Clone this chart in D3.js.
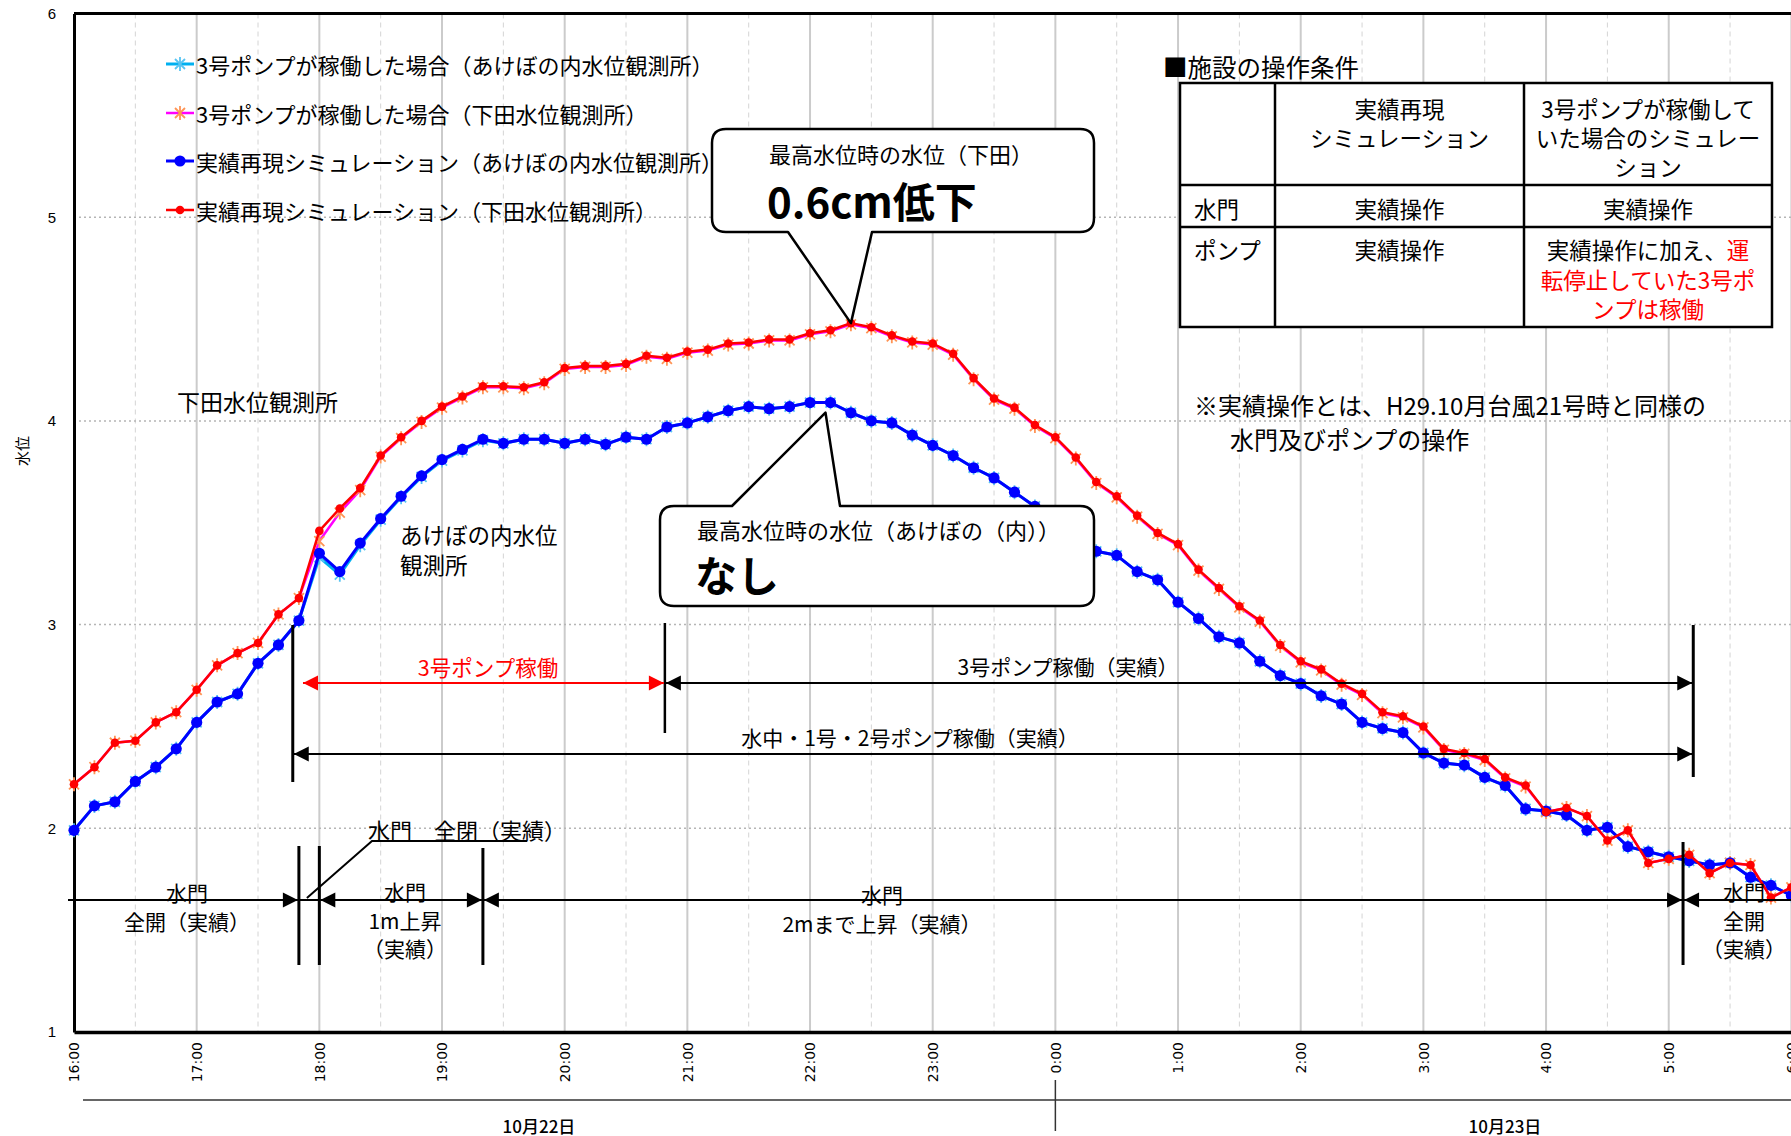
<!DOCTYPE html>
<html>
<head>
<meta charset="utf-8">
<script src="https://cdn.jsdelivr.net/npm/d3@7"></script>
<style>
  html, body { margin: 0; padding: 0; background: #fff; }
  svg { display: block; font-family: "Noto Sans CJK JP", "Noto Sans", sans-serif; }
</style>
</head>
<body>
<svg id="chart" width="1791" height="1136"></svg>
<script>
// Water level (m) every 10 minutes, 10/22 16:00 -> 10/23 6:00
const akebonoActual = [
  1.99, 2.11, 2.13, 2.23, 2.30, 2.39,
  2.52, 2.62, 2.66, 2.81, 2.90, 3.02,
  3.35, 3.26, 3.40, 3.52, 3.63, 3.73,
  3.81, 3.86, 3.91, 3.89, 3.91, 3.91,
  3.89, 3.91, 3.885, 3.92, 3.91, 3.97,
  3.99, 4.02, 4.05, 4.07, 4.06, 4.07,
  4.09, 4.09, 4.04, 4.00, 3.99, 3.93,
  3.88, 3.83, 3.77, 3.72, 3.65, 3.58,
  3.50, 3.43, 3.36, 3.34, 3.26, 3.22,
  3.11, 3.03, 2.94, 2.91, 2.82, 2.75,
  2.71, 2.65, 2.61, 2.52, 2.49, 2.47,
  2.37, 2.32, 2.31, 2.25, 2.21, 2.095,
  2.085, 2.065, 1.99, 2.005, 1.91, 1.885,
  1.86, 1.84, 1.82, 1.83, 1.76, 1.72,
  1.67
];
const shimodaActual = [
  2.216, 2.30, 2.42, 2.43, 2.52, 2.57,
  2.68, 2.80, 2.86, 2.91, 3.05, 3.13,
  3.46, 3.57, 3.67, 3.83, 3.92, 4.00,
  4.07, 4.12, 4.17, 4.17, 4.165, 4.19,
  4.26, 4.27, 4.27, 4.28, 4.32, 4.31,
  4.34, 4.35, 4.38, 4.385, 4.40, 4.40,
  4.43, 4.445, 4.48, 4.46, 4.42, 4.39,
  4.38, 4.33, 4.21, 4.11, 4.065, 3.98,
  3.92, 3.82, 3.70, 3.63, 3.535, 3.45,
  3.395, 3.27, 3.18, 3.09, 3.02, 2.90,
  2.82, 2.78, 2.71, 2.66, 2.57, 2.55,
  2.50, 2.39, 2.37, 2.34, 2.25, 2.21,
  2.08, 2.10, 2.06, 1.94, 1.99, 1.83,
  1.85, 1.87, 1.78, 1.83, 1.82, 1.66,
  1.71
];
const akebonoPump3 = [
  1.99, 2.11, 2.13, 2.23, 2.30, 2.39,
  2.52, 2.62, 2.66, 2.81, 2.90, 3.02,
  3.33, 3.245, 3.39, 3.515, 3.625, 3.725,
  3.805, 3.855, 3.905, 3.89, 3.91, 3.91,
  3.89, 3.91, 3.885, 3.92, 3.91, 3.97,
  3.99, 4.02, 4.05, 4.07, 4.06, 4.07,
  4.09, 4.09, 4.04, 4.00, 3.99, 3.93,
  3.88, 3.83, 3.77, 3.72, 3.65, 3.58,
  3.50, 3.43, 3.36, 3.34, 3.26, 3.22,
  3.11, 3.03, 2.94, 2.91, 2.82, 2.75,
  2.71, 2.65, 2.61, 2.52, 2.49, 2.47,
  2.37, 2.32, 2.31, 2.25, 2.21, 2.095,
  2.085, 2.065, 1.99, 2.005, 1.91, 1.885,
  1.86, 1.84, 1.82, 1.83, 1.76, 1.72,
  1.67
];
const shimodaPump3 = [
  2.216, 2.30, 2.42, 2.43, 2.52, 2.57,
  2.68, 2.80, 2.86, 2.91, 3.05, 3.13,
  3.41, 3.55, 3.66, 3.825, 3.915, 3.995,
  4.065, 4.115, 4.165, 4.165, 4.16, 4.185,
  4.255, 4.265, 4.265, 4.275, 4.315, 4.305,
  4.335, 4.345, 4.375, 4.38, 4.395, 4.395,
  4.425, 4.44, 4.474, 4.455, 4.415, 4.385,
  4.375, 4.325, 4.205, 4.105, 4.06, 3.975,
  3.915, 3.815, 3.695, 3.625, 3.53, 3.445,
  3.39, 3.265, 3.175, 3.085, 3.015, 2.895,
  2.815, 2.775, 2.705, 2.655, 2.565, 2.545,
  2.495, 2.385, 2.365, 2.335, 2.245, 2.205,
  2.08, 2.10, 2.06, 1.94, 1.99, 1.83,
  1.85, 1.87, 1.78, 1.83, 1.82, 1.66,
  1.71
];
const seriesNames = [
  "3号ポンプが稼働した場合（あけぼの内水位観測所）",
  "3号ポンプが稼働した場合（下田水位観測所）",
  "実績再現シミュレーション（あけぼの内水位観測所）",
  "実績再現シミュレーション（下田水位観測所）"
];
const yTicks = [1, 2, 3, 4, 5, 6];
const dateLabels = ["10月22日", "10月23日"];

const startTime = new Date(2017, 9, 22, 16, 0);
const endTime = new Date(2017, 9, 23, 6, 0);
const times = akebonoActual.map((_, i) => d3.timeMinute.offset(startTime, 10 * i));
// clock time helper: hours >= 12 fall on 10/22, the rest on 10/23
const at = (h, m = 0) => new Date(2017, 9, h >= 12 ? 22 : 23, h, m);

const W = 1791, H = 1136;
const plot = { left: 74, right: 1791.4, top: 13.5, bottom: 1032 };
const x = d3.scaleTime().domain([startTime, endTime]).range([plot.left, plot.right]);
const y = d3.scaleLinear().domain([1, 6]).range([plot.bottom, plot.top]);

const svg = d3.select("#chart");
svg.append("rect").attr("width", W).attr("height", H).attr("fill", "#fff");

// ---- grid ----
const grid = svg.append("g");
const halfHours = d3.timeMinute.every(30).range(startTime, endTime).filter(d => d.getMinutes() === 30);
const hours = d3.timeHour.every(1).range(startTime, d3.timeMinute.offset(endTime, 1));
grid.selectAll("line.half").data(halfHours).join("line").attr("class", "half")
  .attr("x1", d => x(d)).attr("x2", d => x(d)).attr("y1", plot.top).attr("y2", plot.bottom)
  .attr("stroke", "#d4d4d4").attr("stroke-width", 1).attr("stroke-dasharray", "5,4");
grid.selectAll("line.hour").data(hours.slice(1)).join("line").attr("class", "hour")
  .attr("x1", d => x(d)).attr("x2", d => x(d)).attr("y1", plot.top).attr("y2", plot.bottom)
  .attr("stroke", "#cbcbcb").attr("stroke-width", 2);
grid.selectAll("line.h").data(yTicks.slice(1, -1)).join("line").attr("class", "h")
  .attr("x1", plot.left).attr("x2", plot.right).attr("y1", d => y(d)).attr("y2", d => y(d))
  .attr("stroke", "#b5b5b5").attr("stroke-width", 1.5).attr("stroke-dasharray", "2,3");

// ---- axes ----
const yAxis = svg.append("g").attr("transform", `translate(${plot.left},0)`)
  .call(d3.axisLeft(y).tickValues(yTicks).tickSize(0).tickPadding(18).tickFormat(d3.format("d")));
yAxis.select(".domain").attr("stroke", "#000").attr("stroke-width", 3);
yAxis.selectAll("text").attr("font-size", 15).attr("fill", "#000")
  .attr("font-family", "'Liberation Sans', sans-serif");

const xAxis = svg.append("g").attr("transform", `translate(0,${plot.bottom})`)
  .call(d3.axisBottom(x).tickValues(hours).tickSize(0).tickSizeOuter(0).tickFormat(d3.timeFormat("%-H:%M")));
xAxis.select(".domain").attr("stroke", "#000").attr("stroke-width", 3.5);
xAxis.selectAll("text")
  .attr("transform", "rotate(-90)").attr("x", -10).attr("y", 0).attr("dy", "0.35em")
  .attr("text-anchor", "end").attr("font-size", 14).attr("fill", "#000")
  .attr("font-family", "'DejaVu Sans', sans-serif");
svg.append("line").attr("x1", plot.left).attr("x2", plot.right).attr("y1", plot.top).attr("y2", plot.top)
  .attr("stroke", "#000").attr("stroke-width", 3);

svg.append("text").attr("transform", `translate(21,451) rotate(-90)`)
  .attr("text-anchor", "middle").attr("dominant-baseline", "central").attr("font-size", 15).text("水位");

// date band
svg.append("line").attr("x1", 83).attr("x2", W).attr("y1", 1100).attr("y2", 1100)
  .attr("stroke", "#333").attr("stroke-width", 1.5);
svg.append("line").attr("x1", x(at(0))).attr("x2", x(at(0))).attr("y1", 1080).attr("y2", 1131)
  .attr("stroke", "#333").attr("stroke-width", 1.5);
svg.selectAll("text.date").data(dateLabels).join("text").attr("class", "date")
  .attr("x", (d, i) => [539, 1505][i]).attr("y", 1125)
  .attr("text-anchor", "middle").attr("dominant-baseline", "central").attr("font-size", 17)
  .attr("font-weight", 500).text(d => d);

// ---- series ----
const styles = [
  { data: akebonoPump3, line: "#00B0F0", width: 3, marker: "star", mcolor: "#58C4F2" },
  { data: shimodaPump3, line: "#FF00FF", width: 2.5, marker: "star", mcolor: "#FF9455" },
  { data: akebonoActual, line: "#0000FF", width: 3, marker: "circle", mcolor: "#0000FF", r: 5.6 },
  { data: shimodaActual, line: "#FF0000", width: 2.5, marker: "circle", mcolor: "#FF0000", r: 4.3 }
];
const starPath = "M-5,-5L5,5M-5,5L5,-5M0,-7L0,7";
const lineGen = d3.line().x((d, i) => x(times[i])).y(d => y(d));
const seriesG = svg.append("g");
function drawMarker(sel, s) {
  if (s.marker === "star") {
    sel.append("path").attr("d", starPath).attr("stroke", s.mcolor).attr("stroke-width", 1.8).attr("fill", "none");
  } else {
    sel.append("circle").attr("r", s.r).attr("fill", s.mcolor);
  }
}
styles.forEach(s => {
  const g = seriesG.append("g");
  g.append("path").datum(s.data).attr("d", lineGen)
    .attr("fill", "none").attr("stroke", s.line).attr("stroke-width", s.width).attr("stroke-linejoin", "round");
  g.selectAll("g.m").data(s.data).join("g").attr("class", "m")
    .attr("transform", (d, i) => `translate(${x(times[i])},${y(d)})`)
    .each(function () { drawMarker(d3.select(this), s); });
});

// ---- legend ----
const legendY = [64, 113, 161, 210];
styles.forEach((s, i) => {
  const g = svg.append("g").attr("transform", `translate(0,${legendY[i]})`);
  g.append("line").attr("x1", 166).attr("x2", 194).attr("stroke", s.line).attr("stroke-width", s.width);
  drawMarker(g.append("g").attr("transform", "translate(180,0)"), s);
  g.append("text").attr("x", 196).attr("dominant-baseline", "central").attr("font-size", 22).text(seriesNames[i]);
});

// ---- helpers ----
function textLines(lines, cx, cy0, gap, opts = {}) {
  const t = svg.append("g");
  lines.forEach((l, i) => {
    t.append("text").attr("x", cx).attr("y", cy0 + i * gap)
      .attr("text-anchor", opts.anchor || "middle").attr("dominant-baseline", "central")
      .attr("font-size", opts.size || 22).attr("fill", opts.color || "#000")
      .attr("font-weight", opts.weight || "normal").text(l);
  });
  return t;
}
function seg(x1, y1, x2, y2, color = "#000", w = 2) {
  svg.append("line").attr("x1", x1).attr("y1", y1).attr("x2", x2).attr("y2", y2)
    .attr("stroke", color).attr("stroke-width", w);
}
function head(tx, ty, dir, color = "#000") {
  const L = 15, h = 7.5;
  svg.append("path").attr("d", `M${tx},${ty}L${tx - dir * L},${ty - h}L${tx - dir * L},${ty + h}Z`).attr("fill", color);
}
function arrow(xa, xb, yy, color = "#000", w = 2) {
  seg(xa, yy, xb, yy, color, w);
  head(xa, yy, -1, color);
  head(xb, yy, 1, color);
}

// ---- station labels ----
textLines(["下田水位観測所"], 177, 401, 0, { anchor: "start", size: 23 });
textLines(["あけぼの内水位", "観測所"], 400, 534, 30, { anchor: "start", size: 22.5 });

// ---- pump operation arrows ----
const yPump3 = 683, yPumps = 754, yGate = 900;
const xPumpStart = x(at(17, 47)), xPump3Actual = x(at(20, 49)), xPumpEnd = x(at(5, 12));
seg(xPumpStart, 625, xPumpStart, 782, "#000", 3);
seg(xPump3Actual, 623, xPump3Actual, 733, "#000", 2.5);
seg(xPumpEnd, 625, xPumpEnd, 777, "#000", 3);
arrow(x(at(17, 52)), xPump3Actual - 1, yPump3, "#FF0000", 2);
textLines(["3号ポンプ稼働"], 488, 666, 0, { size: 21.5, color: "#FF0000" });
arrow(xPump3Actual + 1, xPumpEnd - 1, yPump3);
textLines(["3号ポンプ稼働（実績）"], 1068, 666, 0, { size: 21 });
arrow(xPumpStart + 1, xPumpEnd - 1, yPumps);
textLines(["水中・1号・2号ポンプ稼働（実績）"], 910, 737, 0, { size: 21 });

// ---- gate operation arrows ----
const xClose = x(at(17, 50)), xClose2 = x(at(18, 0)), xRise2 = x(at(19, 20)), xOpen = x(at(5, 7.5));
seg(plot.left - 6, yGate, xClose - 1, yGate);
head(xClose - 1, yGate, 1);
seg(xClose, 846, xClose, 965, "#000", 3);
seg(xClose2, 846, xClose2, 965, "#000", 3);
seg(xClose, yGate, xClose2, yGate);
arrow(xClose2 + 1, xRise2 - 1, yGate);
seg(xRise2, 848, xRise2, 965, "#000", 3);
arrow(xRise2 + 1, xOpen - 1, yGate);
seg(xOpen, 842, xOpen, 965, "#000", 3);
seg(xOpen + 1, yGate, W, yGate);
head(xOpen + 1, yGate, -1);
// leader to "gate fully closed"
svg.append("path").attr("d", `M${xClose + 8},898L372,841L527,841`).attr("fill", "none")
  .attr("stroke", "#000").attr("stroke-width", 2);
textLines(["水門　全閉（実績）"], 368, 829, 0, { anchor: "start", size: 22 });
textLines(["水門", "全開（実績）"], 187, 892, 29, { size: 21 });
textLines(["水門", "1m上昇", "（実績）"], 405, 891, 28.5, { size: 21 });
textLines(["水門", "2mまで上昇（実績）"], 882, 894, 29, { size: 21 });
textLines(["水門", "全開", "（実績）"], 1744, 891, 28.5, { size: 21 });

// ---- operating conditions table ----
const tbl = { x: [1180, 1275, 1524, 1772], y: [83, 185, 227, 327] };
svg.append("text").attr("x", 1163).attr("y", 66).attr("dominant-baseline", "central")
  .attr("font-size", 24.5).text("■施設の操作条件");
svg.append("rect").attr("x", tbl.x[0]).attr("y", tbl.y[0])
  .attr("width", tbl.x[3] - tbl.x[0]).attr("height", tbl.y[3] - tbl.y[0])
  .attr("fill", "#fff").attr("stroke", "#000").attr("stroke-width", 2.5);
tbl.x.slice(1, 3).forEach(v => seg(v, tbl.y[0], v, tbl.y[3], "#000", 2.5));
tbl.y.slice(1, 3).forEach(v => seg(tbl.x[0], v, tbl.x[3], v, "#000", 2.5));
const c2 = (tbl.x[1] + tbl.x[2]) / 2, c3 = (tbl.x[2] + tbl.x[3]) / 2;
textLines(["実績再現", "シミュレーション"], c2, 108, 29, { size: 22.5 });
textLines(["3号ポンプが稼働して", "いた場合のシミュレー", "ション"], c3, 108, 29, { size: 22.5 });
textLines(["水門"], 1194, 208, 0, { anchor: "start", size: 22.5 });
textLines(["実績操作"], c2, 208, 0, { size: 22.5 });
textLines(["実績操作"], c3, 208, 0, { size: 22.5 });
textLines(["ポンプ"], 1194, 249, 0, { anchor: "start", size: 22.5 });
textLines(["実績操作"], c2, 249, 0, { size: 22.5 });
const rich = svg.append("text").attr("x", c3).attr("y", 249).attr("text-anchor", "middle")
  .attr("dominant-baseline", "central").attr("font-size", 22.5);
rich.append("tspan").text("実績操作に加え、");
rich.append("tspan").attr("fill", "#FF0000").text("運");
textLines(["転停止していた3号ポ", "ンプは稼働"], c3, 279, 29, { size: 22.5, color: "#FF0000" });

// note
textLines(["※実績操作とは、H29.10月台風21号時と同様の"], 1194, 404, 0, { anchor: "start", size: 24 });
textLines(["水門及びポンプの操作"], 1230, 438, 0, { anchor: "start", size: 24 });

// ---- callouts ----
function callout(bx0, by0, bx1, by1, base0, base1, tip, side) {
  const r = 14;
  const baseY = side === "bottom" ? by1 : by0;
  let d;
  if (side === "bottom") {
    d = `M${bx0 + r},${by0}H${bx1 - r}Q${bx1},${by0} ${bx1},${by0 + r}V${by1 - r}Q${bx1},${by1} ${bx1 - r},${by1}` +
        `H${base1}L${tip[0]},${tip[1]}L${base0},${baseY}` +
        `H${bx0 + r}Q${bx0},${by1} ${bx0},${by1 - r}V${by0 + r}Q${bx0},${by0} ${bx0 + r},${by0}Z`;
  } else {
    d = `M${bx0 + r},${by0}H${base0}L${tip[0]},${tip[1]}L${base1},${baseY}` +
        `H${bx1 - r}Q${bx1},${by0} ${bx1},${by0 + r}V${by1 - r}Q${bx1},${by1} ${bx1 - r},${by1}` +
        `H${bx0 + r}Q${bx0},${by1} ${bx0},${by1 - r}V${by0 + r}Q${bx0},${by0} ${bx0 + r},${by0}Z`;
  }
  svg.append("path").attr("d", d).attr("fill", "#fff").attr("stroke", "#000")
    .attr("stroke-width", 2.5).attr("stroke-linejoin", "round");
}
const iPeakS = shimodaActual.indexOf(d3.max(shimodaActual));
const iPeakA = akebonoActual.indexOf(d3.max(akebonoActual)) + 1;
callout(712, 129, 1094, 232, 788, 872, [x(times[iPeakS]), y(shimodaActual[iPeakS])], "bottom");
textLines(["最高水位時の水位（下田）"], 769, 153, 0, { anchor: "start", size: 22 });
textLines(["0.6cm低下"], 767, 199, 0, { anchor: "start", size: 42, weight: "bold" });
callout(660, 506, 1094, 606, 732, 840, [x(times[iPeakA]) - 5, y(akebonoActual[iPeakA]) + 10], "top");
textLines(["最高水位時の水位（あけぼの（内））"], 697, 529, 0, { anchor: "start", size: 22 });
textLines(["なし"], 695, 573, 0, { anchor: "start", size: 42, weight: "bold" });
</script>
</body>
</html>
